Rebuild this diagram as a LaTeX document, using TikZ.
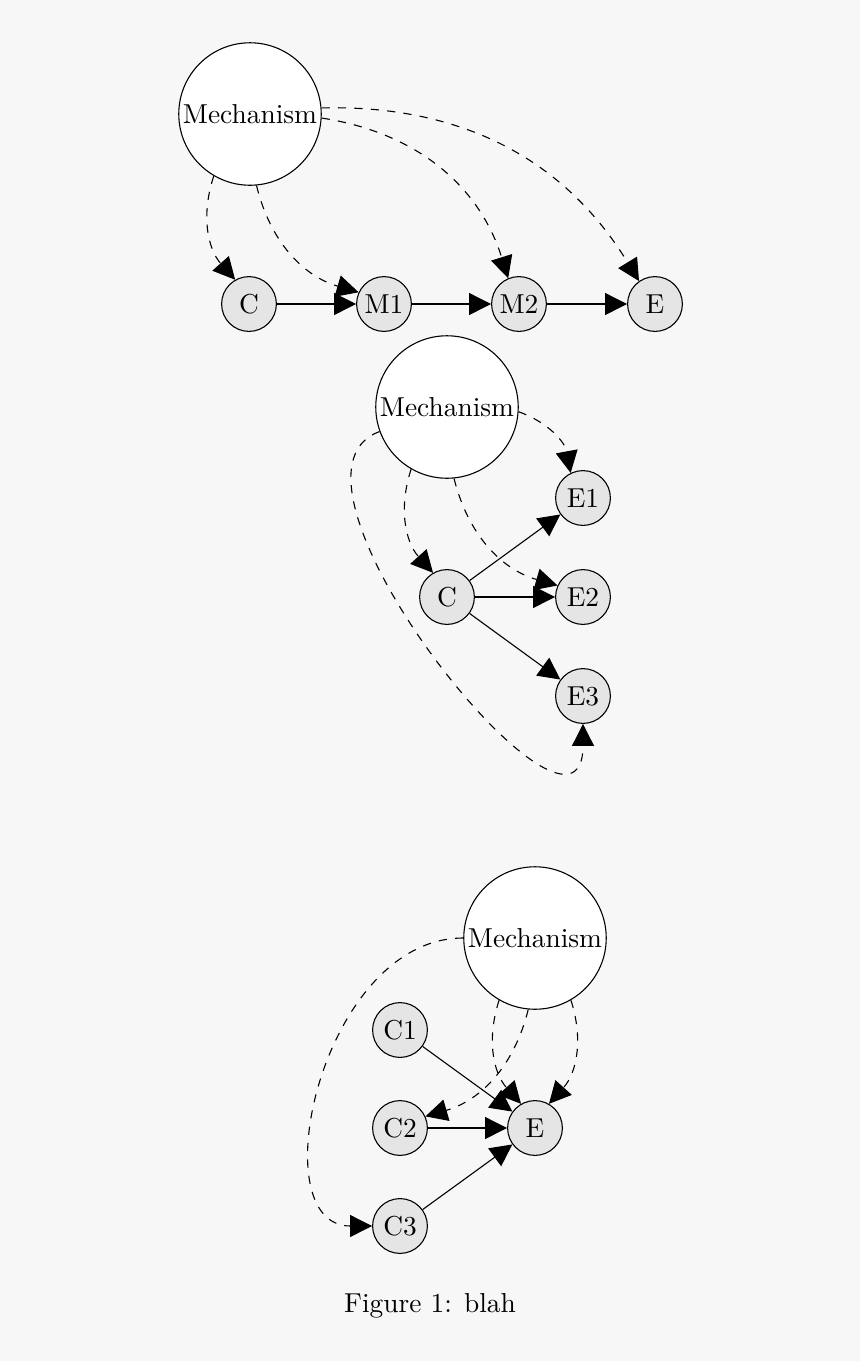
\documentclass[tikz,border=0pt]{standalone}
\usetikzlibrary{arrows.meta}
\definecolor{bg}{RGB}{247,247,247}
\definecolor{nodegray}{RGB}{229,229,229}
\begin{document}
\begin{tikzpicture}[x=0.365pt,y=0.365pt,
  mech/.style={circle,draw,fill=white,minimum size=52pt,inner sep=0pt},
  var/.style={circle,draw,fill=nodegray,minimum size=20pt,inner sep=0pt},
  causal/.style={-{Triangle[length=8pt,width=8pt]}},
  mechedge/.style={dashed,-{Triangle[length=8pt,width=8pt]}}]
\fill[bg] (0,0) rectangle (860,-1361);
\useasboundingbox (0,0) rectangle (860,-1361);
% top
\node[mech] (ma) at (250,-114) {Mechanism};
\node[var] (ca) at (249,-304) {C};
\node[var] (m1) at (384,-304) {M1};
\node[var] (m2) at (519,-304) {M2};
\node[var] (ea) at (655,-304) {E};
\draw[causal] (ca) -- (m1);
\draw[causal] (m1) -- (m2);
\draw[causal] (m2) -- (ea);
\draw[mechedge] (ma) to[bend right=30] (ca);
\draw[mechedge] (ma) to[bend right=30] (m1);
\draw[mechedge] (ma) to[bend left=32] (m2);
\draw[mechedge] (ma) to[bend left=30] (ea);
% middle
\node[mech] (mb) at (447,-407) {Mechanism};
\node[var] (e1) at (583,-498) {E1};
\node[var] (cb) at (447,-597) {C};
\node[var] (e2) at (583,-597) {E2};
\node[var] (e3) at (583,-696) {E3};
\draw[causal] (cb) -- (e1);
\draw[causal] (cb) -- (e2);
\draw[causal] (cb) -- (e3);
\draw[mechedge] (mb) to[bend left=30] (e1);
\draw[mechedge] (mb) to[bend right=30] (cb);
\draw[mechedge] (mb) to[bend right=30] (e2);
\draw[mechedge] (mb) to[out=200,in=-90,out looseness=0.96,in looseness=1.15] (e3);
% bottom
\node[mech] (mc) at (535,-938) {Mechanism};
\node[var] (c1) at (400,-1030) {C1};
\node[var] (c2) at (400,-1128) {C2};
\node[var] (ec) at (535,-1128) {E};
\node[var] (c3) at (400,-1226) {C3};
\draw[causal] (c1) -- (ec);
\draw[causal] (c2) -- (ec);
\draw[causal] (c3) -- (ec);
\draw[mechedge] (mc) to[out=180,in=180,out looseness=1.2,in looseness=0.96] (c3);
\draw[mechedge] (mc) to[bend left=30] (c2);
\draw[mechedge] (mc) to[bend right=30] (ec);
\draw[mechedge] (mc) to[bend left=30] (ec);
% caption
\node (cap) at (430,-1306) {Figure 1: blah};
\end{tikzpicture}
\end{document}
